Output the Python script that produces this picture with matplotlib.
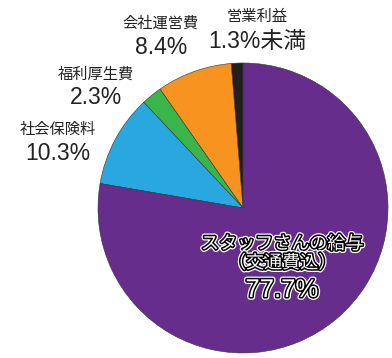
import matplotlib.pyplot as plt
import matplotlib.patheffects as pe

plt.rcParams['font.family'] = ['Liberation Sans', 'Noto Sans CJK JP', 'DejaVu Sans']

# 上から反時計回りの順
labels = ['営業利益', '会社運営費', '福利厚生費', '社会保険料', 'スタッフさんの給与\n（交通費込）']
values = [1.3, 8.4, 2.3, 10.3, 77.7]
pct_labels = ['1.3%未満', '8.4%', '2.3%', '10.3%', '77.7%']
colors = ['#231f20', '#f7931e', '#39b54a', '#29a8e0', '#662d8c']

W, H = 392, 358
fig = plt.figure(figsize=(W / 100, H / 100), dpi=100)
ax = fig.add_axes([0, 0, 1, 1])

ax.pie(values, colors=colors, startangle=90, counterclock=True,
       center=(243, H - 208), radius=145,
       wedgeprops=dict(linewidth=0.4, edgecolor='#333333'))
ax.set_xlim(0, W)
ax.set_ylim(0, H)
ax.set_aspect('equal')
ax.axis('off')

# 外側のラベル (x, 見出しのy, 数値のy)
pos = [(257, 17, 41), (161, 24, 48), (96, 75, 98), (58, 130, 154)]
for (x, y1, y2), name, pct in zip(pos, labels[:4], pct_labels[:4]):
    ax.text(x, H - y1, name, ha='center', va='center', fontsize=11, color='#222222')
    ax.text(x, H - y2, pct, ha='center', va='center', fontsize=16.5, color='#222222')

# 紫の中のラベル
outline = [pe.Stroke(linewidth=4, foreground='white'),
           pe.Stroke(linewidth=2.2, foreground='black'),
           pe.Normal()]
ax.text(282, H - 254, labels[4], ha='center', va='center', fontsize=13,
        color='white', linespacing=1.15, path_effects=outline)
ax.text(282, H - 290, pct_labels[4], ha='center', va='center', fontsize=18.5,
        color='white', path_effects=outline)

fig.savefig('out.png', dpi=100)
